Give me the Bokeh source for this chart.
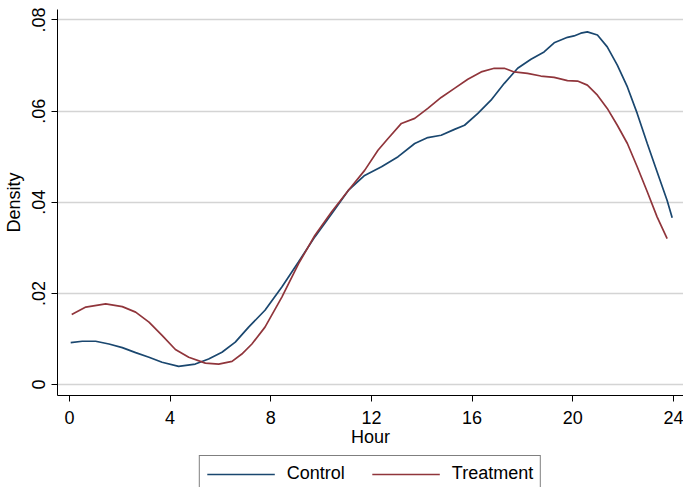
from bokeh.plotting import figure
from bokeh.layouts import column
from bokeh.models import Legend, LegendItem, FixedTicker, CustomJSTickFormatter, Range1d
from bokeh.embed import file_html
from bokeh.resources import INLINE

# Data (hour of day vs. kernel density)
control_hour = [0.05, 0.51, 1.04, 1.57, 2.1, 2.63, 3.16, 3.68, 4.34, 5.0, 5.53, 6.06,
                6.59, 7.12, 7.77, 8.44, 9.1, 9.75, 10.42, 11.08, 11.73, 12.4, 13.06,
                13.72, 14.24, 14.77, 15.3, 15.7, 16.23, 16.75, 17.28, 17.81, 18.34,
                18.86, 19.26, 19.79, 20.05, 20.32, 20.58, 20.98, 21.37, 21.77, 22.17,
                22.56, 22.96, 23.35, 23.75, 23.95]
control_density = [.0092, .0095, .0095, .0089, .0081, .0070, .0060, .0049, .0040, .0045,
                   .0056, .0071, .0093, .0126, .0163, .0214, .0269, .0324, .0375, .0426,
                   .0459, .0478, .0500, .0529, .0542, .0547, .0560, .0569, .0595, .0624,
                   .0661, .0694, .0714, .0730, .0750, .0762, .0765, .0771, .0774, .0767,
                   .0741, .0701, .0653, .0595, .0529, .0467, .0404, .0366]

treatment_hour = [0.09, 0.65, 1.44, 2.1, 2.63, 3.16, 3.68, 4.21, 4.74, 5.4, 5.93, 6.46,
                  6.85, 7.25, 7.77, 8.44, 9.1, 9.75, 10.42, 11.08, 11.73, 12.26, 12.66,
                  13.19, 13.72, 14.24, 14.77, 15.3, 15.83, 16.36, 16.88, 17.28, 17.67,
                  18.2, 18.73, 19.26, 19.79, 20.19, 20.58, 20.98, 21.37, 21.77, 22.17,
                  22.56, 22.96, 23.35, 23.75]
treatment_density = [.0154, .0170, .0177, .0171, .0159, .0137, .0108, .0077, .0060, .0047,
                     .0045, .0051, .0067, .0089, .0126, .0192, .0265, .0327, .0379, .0426,
                     .0470, .0514, .0540, .0573, .0584, .0606, .0630, .0650, .0670, .0686,
                     .0694, .0694, .0686, .0683, .0677, .0674, .0667, .0666, .0657, .0635,
                     .0606, .0569, .0529, .0478, .0423, .0368, .0320]

x_ticks = [0, 4, 8, 12, 16, 20, 24]
y_ticks = [0, 0.02, 0.04, 0.06, 0.08]
series_labels = ["Control", "Treatment"]

FONT = "Liberation Sans"
NAVY = "#1a476f"
MAROON = "#90353b"

p = figure(width=683, height=454, output_backend="svg", toolbar_location=None,
           x_range=Range1d(-0.475, 24.4), y_range=Range1d(-0.0024, 0.0823),
           min_border_left=55, min_border_right=0, min_border_top=9, min_border_bottom=59,
           background_fill_color="white", border_fill_color="white")
p.outline_line_color = None

p.line(control_hour, control_density, line_color=NAVY, line_width=1.7)
p.line(treatment_hour, treatment_density, line_color=MAROON, line_width=1.7)

p.xgrid.grid_line_color = None
p.ygrid.grid_line_color = "#d4d4d4"
p.ygrid.grid_line_width = 1.5

p.xaxis.ticker = FixedTicker(ticks=x_ticks)
p.yaxis.ticker = FixedTicker(ticks=y_ticks)
p.yaxis.formatter = CustomJSTickFormatter(
    code="return tick == 0 ? '0' : tick.toFixed(2).replace(/^0/, '');")
p.yaxis.major_label_orientation = "vertical"

for ax in (p.xaxis[0], p.yaxis[0]):
    ax.axis_line_color = "black"
    ax.axis_line_width = 1
    ax.major_tick_line_color = "black"
    ax.major_tick_out = 6
    ax.major_tick_in = 0
    ax.minor_tick_line_color = None
    ax.major_label_text_font = FONT
    ax.major_label_text_font_size = "18px"
    ax.major_label_text_color = "black"
    ax.axis_label_text_font = FONT
    ax.axis_label_text_font_size = "18px"
    ax.axis_label_text_font_style = "normal"
    ax.axis_label_text_color = "black"

p.xaxis.axis_label = "Hour"
p.yaxis.axis_label = "Density"
p.xaxis.major_label_standoff = 9
p.xaxis.axis_label_standoff = 0
p.yaxis.major_label_standoff = 6
p.yaxis.axis_label_standoff = 6

# Legend strip below the plot (box bottom runs off the page, as in the reference)
leg = figure(width=683, height=33, output_backend="svg", toolbar_location=None,
             x_axis_type=None, y_axis_type=None,
             x_range=Range1d(0, 1), y_range=Range1d(0, 1),
             min_border_left=55, min_border_right=0, min_border_top=0, min_border_bottom=0,
             background_fill_color="white", border_fill_color="white")
leg.outline_line_color = None
leg.grid.visible = False
# legend keys: line renderers kept outside the strip's visible range
g1 = leg.line([5, 6], [5, 6], line_color=NAVY, line_width=1.7)
g2 = leg.line([5, 6], [5, 6], line_color=MAROON, line_width=1.7)

legend = Legend(items=[LegendItem(label=series_labels[0], renderers=[g1]),
                       LegendItem(label=series_labels[1], renderers=[g2])],
                orientation="horizontal", location="top_center",
                border_line_color="black", border_line_width=1,
                background_fill_color="white", background_fill_alpha=1,
                label_text_font=FONT, label_text_font_size="18px",
                label_text_color="black",
                glyph_width=68, glyph_height=20, label_height=20,
                label_standoff=12, spacing=27, padding=7, margin=1)
leg.add_layout(legend, "center")

layout = column(p, leg, spacing=0)
open("out.html", "w").write(file_html(layout, INLINE))
